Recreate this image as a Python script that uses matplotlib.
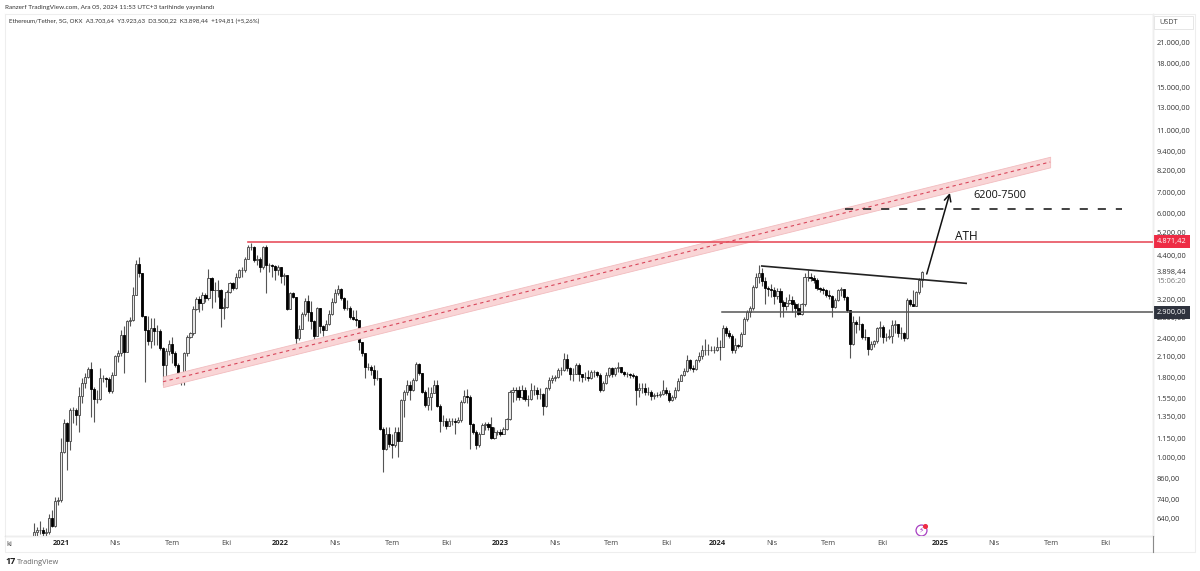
import numpy as np
import matplotlib
matplotlib.use('Agg')
import matplotlib.pyplot as plt
from matplotlib.patches import Rectangle

plt.rcParams['font.family'] = ['Open Sans', 'DejaVu Sans']

# 5 gunluk mumlar, kapanis / yuksek / dusuk (USDT), ilk mum 2021 basindan 9 mum once
first_open = 556
closes = [
    583,590,590,576,580,646,609,730,734,1046,
    1293,1135,1420,1420,1365,1577,1727,1811,1912,1651,
    1542,1542,1790,1790,1781,1627,1835,2108,2150,2460,
    2177,2715,2744,3300,4140,3860,2830,2560,2360,2590,
    2530,2530,2230,1975,2190,2310,2160,1975,1810,1800,
    2150,2420,2490,2985,3190,3100,3300,3220,3720,3420,
    3420,3420,2990,3020,3380,3590,3465,3770,3957,3957,
    4300,4700,4700,4258,4300,4040,4700,4100,4100,4070,
    3957,4040,3790,3820,2965,3340,3250,2400,2565,2860,
    3160,2920,2730,2440,2990,2620,2550,2660,2860,3130,
    3340,3440,3220,3000,3000,2800,2760,2745,2340,2150,
    1950,1950,1900,1790,1790,1240,1065,1190,1105,1100,
    1210,1135,1527,1615,1705,1645,1770,1995,1865,1620,
    1475,1565,1605,1705,1465,1315,1315,1265,1315,1315,
    1300,1320,1510,1575,1565,1280,1210,1100,1190,1270,
    1280,1255,1160,1210,1210,1190,1240,1325,1620,1650,
    1645,1565,1650,1545,1545,1650,1650,1595,1595,1465,
    1665,1775,1790,1810,1905,1905,2070,1925,1855,1855,
    1975,1845,1810,1810,1790,1880,1880,1835,1645,1730,
    1835,1925,1845,1925,1940,1880,1845,1845,1835,1820,
    1650,1665,1665,1625,1625,1570,1585,1580,1595,1645,
    1610,1527,1565,1650,1760,1835,1895,2050,1925,1915,
    2050,2110,2210,2210,2210,2210,2210,2260,2245,2580,
    2490,2450,2205,2285,2270,2480,2760,2920,2990,3500,
    3770,3870,
    3640,3470,3450,3420,3270,3405,3140,3040,3100,3177,
    3080,3000,2860,3080,3760,3760,3740,3678,3460,3440,
    3418,3300,3270,3010,3177,3418,3440,3250,2952,2300,
    2710,2665,2665,2430,2415,2215,2310,2350,2580,2615,
    2415,2430,2450,2650,2665,2490,2490,2400,3177,3080,
    3050,3375,3678,3898.44,
]
highs = [
    620,605,631,605,597,665,683,753,753,1154,
    1332,1303,1437,1455,1437,1685,1790,1856,1950,2023,
    1685,1643,1925,1835,1811,1811,1880,2122,2203,2550,
    2622,2744,2800,3500,4258,4345,3860,2830,2830,2795,
    2795,2640,2570,2250,2230,2370,2430,2180,2000,1830,
    2165,2460,2520,3030,3250,3280,3360,3340,3990,3750,
    3630,3680,3440,3220,3420,3630,3630,3860,4000,4060,
    4350,4760,4820,4720,4410,4350,4720,4760,4170,4150,
    4100,4100,4060,3860,3820,3380,3380,3240,2640,2910,
    3220,3290,3150,2740,3020,3000,2640,2745,2950,3220,
    3440,3550,3470,3250,3170,3040,2950,2950,2745,2340,
    2150,2000,1975,1975,1910,1790,1255,1255,1255,1190,
    1255,1255,1545,1645,1770,1750,1790,2020,2005,1865,
    1640,1685,1685,1770,1770,1480,1365,1335,1335,1335,
    1335,1345,1527,1650,1660,1580,1295,1225,1205,1290,
    1300,1300,1345,1255,1230,1235,1255,1335,1650,1685,
    1685,1690,1705,1685,1585,1725,1705,1685,1665,1605,
    1685,1810,1835,1835,1925,1950,2150,2135,1950,1925,
    2000,2000,1845,1880,1900,1910,1910,1895,1860,1750,
    1880,1950,1950,1950,2025,1950,1895,1880,1865,1860,
    1835,1725,1735,1735,1685,1645,1605,1625,1635,1770,
    1685,1650,1585,1685,1790,1855,1925,2120,2070,1975,
    2070,2170,2280,2380,2310,2275,2275,2420,2370,2640,
    2620,2550,2470,2400,2310,2520,2800,2950,3030,3550,
    3860,4100,
    4015,3760,3520,3560,3490,3470,3470,3170,3240,3310,
    3280,3140,3110,3110,3860,3957,3860,3810,3730,3490,
    3490,3450,3418,3300,3215,3450,3490,3450,3270,2952,
    2820,2745,2820,2680,2565,2415,2350,2370,2615,2715,
    2650,2490,2565,2745,2745,2665,2615,2520,3215,3190,
    3418,3400,3730,3923.63,
]
lows = [
    553,558,575,553,553,575,605,605,707,725,
    1034,915,1059,1287,1271,1211,1490,1663,1790,1352,
    1303,1490,1527,1747,1685,1604,1604,1835,2023,2108,
    1856,2177,2620,2715,3300,3770,2800,1747,2285,2240,
    2285,2285,2203,1700,1800,2125,2000,1950,1790,1700,
    1710,2105,2400,2460,2950,2920,2950,3140,3180,2990,
    3140,3250,2610,2760,2990,3340,3420,3440,3720,3770,
    3910,4280,4580,4200,4100,3900,4000,3350,3910,3770,
    3680,3820,3590,3550,2950,2965,3220,2135,2370,2570,
    2830,2720,2570,2285,2440,2490,2440,2550,2650,2840,
    3110,3300,3180,2950,2950,2760,2745,2620,2200,2110,
    1790,1900,1835,1700,1770,1225,900,1060,1085,1000,
    1085,1010,1135,1350,1585,1525,1635,1760,1830,1605,
    1455,1420,1420,1605,1455,1210,1260,1240,1260,1270,
    1190,1295,1300,1500,1500,1070,1195,1070,1085,1190,
    1225,1225,1150,1150,1185,1175,1190,1230,1320,1510,
    1525,1525,1545,1520,1465,1525,1585,1545,1545,1370,
    1455,1650,1730,1750,1790,1830,1895,1895,1770,1750,
    1845,1750,1740,1770,1760,1780,1810,1810,1625,1635,
    1715,1810,1810,1820,1880,1860,1820,1810,1800,1800,
    1475,1565,1605,1585,1585,1525,1545,1565,1565,1585,
    1585,1510,1520,1545,1635,1750,1820,1880,1905,1880,
    1905,2025,2070,2125,2125,2180,2150,2180,2050,2245,
    2440,2400,2160,2150,2230,2260,2470,2730,2800,2950,
    3480,3600,
    3520,3080,3270,3240,3080,3190,2810,2810,2950,3080,
    2920,2810,2840,2840,3050,3640,3640,3600,3418,3370,
    3330,3240,3190,2810,3000,3160,3270,3177,2910,2075,
    2285,2490,2550,2390,2370,2125,2203,2260,2315,2415,
    2315,2350,2390,2315,2490,2415,2390,2350,2390,3045,
    3030,3045,3330,3500,
]

price_ticks = [21000, 18000, 15000, 13000, 11000, 9400, 8200, 7000, 6000, 5200, 4400,
               3200, 2800, 2400, 2100, 1800, 1550, 1350, 1150, 1000, 860, 740, 640]
price_labels = ['21.000,00', '18.000,00', '15.000,00', '13.000,00', '11.000,00', '9.400,00',
                '8.200,00', '7.000,00', '6.000,00', '5.200,00', '4.400,00', '3.200,00', '2.800,00',
                '2.400,00', '2.100,00', '1.800,00', '1.550,00', '1.350,00', '1.150,00', '1.000,00',
                '860,00', '740,00', '640,00']
time_ticks = [0, 18, 37, 55, 73, 91, 110, 128, 146, 164, 183, 201, 218, 236, 255, 273, 292, 310, 329, 347]
time_labels = ['2021', 'Nis', 'Tem', 'Eki', '2022', 'Nis', 'Tem', 'Eki', '2023', 'Nis', 'Tem', 'Eki',
               '2024', 'Nis', 'Tem', 'Eki', '2025', 'Nis', 'Tem', 'Eki']

# Cizimler (mum no, fiyat)
channel_x = [33.9, 328.6]
channel_mid = [1747, 8724]
channel_up = [1816, 9069]
channel_dn = [1680, 8392]
ath_level = 4871.42
ath_x = [62, 363]
support_level = 2900
support_x = [219.6, 363]
target_x = [260.5, 352.5]
target_level = 6190
resist_x = [232.8, 300.7]
resist_y = [4075, 3589]
arrow_x = [287.6, 295.3]
arrow_y = [3843, 6955]

W, H = 1200, 571
fig = plt.figure(figsize=(W / 100, H / 100), dpi=100, facecolor='white')
ax = fig.add_axes([5 / W, (H - 536) / H, 1147.5 / W, 522 / H])
ax.set_yscale('log')
ax.set_xlim(-18.6, 362.6)
ax.set_ylim(564.7, 25778)

# Mumlar
closes_a = np.array(closes, dtype=float)
opens_a = np.r_[first_open, closes_a[:-1]]
idx = np.arange(len(closes_a)) - 9
up = closes_a >= opens_a
ax.vlines(idx, lows, highs, color='#555555', linewidth=0.8, zorder=2)
body_low = np.minimum(opens_a, closes_a)
body_h = np.abs(closes_a - opens_a)
ax.bar(idx[up], body_h[up], bottom=body_low[up], width=0.72, facecolor='#e6e6e6',
       edgecolor='#444444', linewidth=0.6, zorder=3)
ax.bar(idx[~up], body_h[~up], bottom=body_low[~up], width=0.72, facecolor='black',
       edgecolor='black', linewidth=0.6, zorder=3)

# Kanal
ax.fill_between(channel_x, channel_dn, channel_up, color='#f9d5d6', edgecolor='#f2bcbf',
                linewidth=0.6, zorder=4)
ax.plot(channel_x, channel_mid, color='#d8455a', linewidth=0.8, linestyle=(0, (3, 3)), zorder=5)

# Yatay seviyeler, direnc ve hedef
ax.plot(ath_x, [ath_level, ath_level], color='#e8505f', linewidth=1.2, zorder=5)
ax.plot(support_x, [support_level, support_level], color='#555555', linewidth=1.1, zorder=5)
ax.plot(target_x, [target_level, target_level], color='#333333', linewidth=1.3,
        linestyle=(0, (4.5, 5.5)), zorder=5)
ax.plot(resist_x, resist_y, color='#222222', linewidth=1.2, zorder=5)
ax.annotate('', xy=(arrow_x[1], arrow_y[1]), xytext=(arrow_x[0], arrow_y[0]),
            arrowprops=dict(arrowstyle='->', color='#111111', lw=1.1, mutation_scale=12,
                            shrinkA=0, shrinkB=0), zorder=6)
ax.text(297, 5040, 'ATH', fontsize=8.6, color='#111111', ha='left', va='center', zorder=6)
ax.text(303, 6840, '6200-7500', fontsize=7.8, color='#111111', ha='left', va='center', zorder=6)

# Eksenler
for s in ['left', 'top']:
    ax.spines[s].set_color('#eeeeee')
for s in ['right', 'bottom']:
    ax.spines[s].set_color('#8a8a8a')
ax.yaxis.tick_right()
ax.set_yticks(price_ticks)
ax.set_yticklabels(price_labels, fontsize=5.4, color='#333333')
ax.minorticks_off()
ax.set_xticks(time_ticks)
ax.set_xticklabels(time_labels, fontsize=5.4, color='#444444')
for lab, txt in zip(ax.get_xticklabels(), time_labels):
    if txt.isdigit():
        lab.set_fontweight('bold')
        lab.set_color('#222222')
ax.tick_params(axis='both', length=0)
ax.tick_params(axis='y', pad=3)
ax.tick_params(axis='x', pad=3.2)

# Fiyat etiketleri
lab_t = ax.get_yaxis_transform()
ax.text(1.0037, 3898.44, '3.898,44', transform=lab_t, fontsize=5.4, color='#333333', va='center', clip_on=False)
ax.text(1.0037, 3630, '15:06:20', transform=lab_t, fontsize=5.4, color='#777777', va='center', clip_on=False)
ax.text(1.0037, ath_level, '4.871,42', transform=lab_t, fontsize=5.4, color='white', va='center', zorder=8,
        clip_on=False, bbox=dict(boxstyle='square,pad=0.45', facecolor='#ee2c45', edgecolor='none'))
ax.text(1.0037, support_level, '2.900,00', transform=lab_t, fontsize=5.4, color='white', va='center', zorder=8,
        clip_on=False, bbox=dict(boxstyle='square,pad=0.45', facecolor='#2f333e', edgecolor='none'))

# Pencere cercevesi ve metinler
fig.add_artist(Rectangle((1152.5 / W, (H - 552) / H), 42.5 / W, 538 / H, fill=False, edgecolor='#eeeeee', linewidth=0.8))
fig.add_artist(Rectangle((5 / W, (H - 552) / H), 1147.5 / W, 16 / H, fill=False, edgecolor='#eeeeee', linewidth=0.8))
fig.add_artist(plt.Line2D([1152.7 / W] * 2, [(H - 552) / H, (H - 536) / H], color='#8a8a8a', linewidth=0.8))
fig.add_artist(Rectangle((1154 / W, (H - 29) / H), 39 / W, 13 / H, facecolor='white', edgecolor='#e6e6e6', linewidth=0.7))
fig.text(1159 / W, 1 - 22.5 / H, 'USDT', fontsize=5.2, color='#444444', va='center')

# soldaki yarim kalan "Eki" etiketi
fig.text(6 / W, 1 - 544 / H, 'ki', fontsize=5.4, color='#444444', va='center')

fig.text(5 / W, 1 - 8 / H, 'Ranzerf TradingView.com, Ara 05, 2024 11:53 UTC+3 tarihinde yayınlandı',
         fontsize=4.55, family=['Lato', 'DejaVu Sans'], color='#333333', va='center')
fig.text(9 / W, 1 - 21 / H, 'Ethereum/Tether, 5G, OKX  A3.703,64  Y3.923,63  D3.500,22  K3.898,44  +194,81 (+5,26%)',
         fontsize=4.45, family=['Lato', 'DejaVu Sans'], color='#333333', va='center')
fig.text(5 / W, 1 - 562 / H, '17', fontsize=6.5, fontweight='bold', color='#222222', va='center')
fig.text(17 / W, 1 - 562 / H, 'TradingView', fontsize=5.3, color='#666666', va='center')

# Simge
ax.scatter([285.7], [590], s=62, facecolor='white', edgecolor='#a83fc2', linewidth=0.9, zorder=7, clip_on=False)
ax.text(285.7, 590, '\u26a1', fontsize=5.5, color='#a83fc2', ha='center', va='center', zorder=8, family='DejaVu Sans')
ax.scatter([286.9], [607], s=7, color='#ee2c45', zorder=8)

plt.savefig('out.png', dpi=100)
